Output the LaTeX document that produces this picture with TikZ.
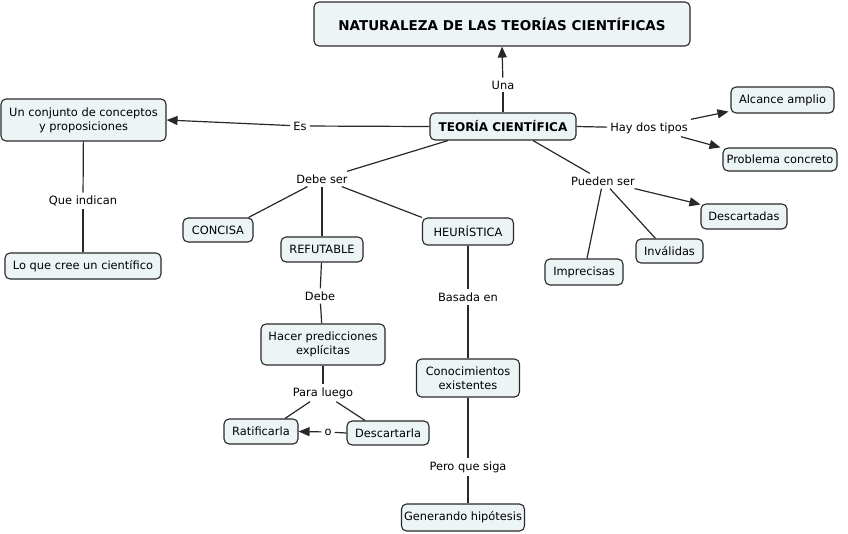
\documentclass[tikz,border=0pt]{standalone}
\usepackage{fontspec}
\setmainfont{DejaVu Sans}
\usetikzlibrary{arrows.meta}
\definecolor{boxfill}{RGB}{237,244,246}
\definecolor{edge}{RGB}{40,40,40}
\begin{document}
\begin{tikzpicture}[x=1pt,y=-1pt,
  box/.style={draw=edge,fill=boxfill,rounded corners=5pt,line width=1.1pt,align=center,inner sep=2pt,
    font=\fontsize{11.4}{14}\selectfont},
  lbl/.style={fill=white,inner sep=3pt,font=\fontsize{11.4}{14}\selectfont},
  con/.style={draw=edge,line width=1.2pt},
  arr/.style={con,-{Triangle[length=11pt,width=9pt]}}]
\useasboundingbox (0,0) rectangle (848,533);
% boxes
\node[box,minimum width=376,minimum height=44,font=\fontsize{13.5}{16}\bfseries] (title) at (502,24) {NATURALEZA DE LAS TEORÍAS CIENTÍFICAS};
\node[box,minimum width=146,minimum height=27,font=\fontsize{12}{14}\bfseries] (teoria) at (503,126.5) {TEORÍA CIENTÍFICA};
\node[box,minimum width=165,minimum height=42] (conjunto) at (83.5,120) {Un conjunto de conceptos\\y proposiciones};
\node[box,minimum width=156,minimum height=26] (locree) at (83,266) {Lo que cree un científico};
\node[box,minimum width=70,minimum height=24] (concisa) at (218,230) {CONCISA};
\node[box,minimum width=82,minimum height=25] (refutable) at (322,249.5) {REFUTABLE};
\node[box,minimum width=91,minimum height=27] (heuristica) at (468,231.5) {HEURÍSTICA};
\node[box,minimum width=124,minimum height=41] (hacer) at (323,344.5) {Hacer predicciones\\explícitas};
\node[box,minimum width=74,minimum height=25] (ratificarla) at (261,431.5) {Ratificarla};
\node[box,minimum width=82,minimum height=24] (descartarla) at (388,433) {Descartarla};
\node[box,minimum width=103,minimum height=38] (conoc) at (468,378) {Conocimientos\\existentes};
\node[box,minimum width=123,minimum height=27] (generando) at (463,517.5) {Generando hipótesis};
\node[box,minimum width=103,minimum height=26] (alcance) at (782.5,100) {Alcance amplio};
\node[box,minimum width=114,minimum height=23] (problema) at (780,159.5) {Problema concreto};
\node[box,minimum width=86,minimum height=25] (descartadas) at (744,216.5) {Descartadas};
\node[box,minimum width=67,minimum height=24] (invalidas) at (669.5,251) {Inválidas};
\node[box,minimum width=78,minimum height=26] (imprecisas) at (584,272) {Imprecisas};
% labels
\node[lbl] (una) at (503,85) {Una};
\node[lbl] (es) at (300,126) {Es};
\node[lbl] (queindican) at (83,201) {Que indican};
\node[lbl] (debeser) at (322,179) {Debe ser};
\node[lbl] (debe) at (320,296) {Debe};
\node[lbl] (paraluego) at (323,393) {Para luego};
\node[lbl] (o) at (328,432) {o};
\node[lbl] (basada) at (468,297) {Basada en};
\node[lbl] (pero) at (468,467) {Pero que siga};
\node[lbl] (haydos) at (649,128) {Hay dos tipos};
\node[lbl] (pueden) at (603,181) {Pueden ser};
% connectors
\draw[con] (teoria.north) -- (una);
\draw[arr] (una) -- (title.south);
\draw[con] (teoria.west) -- (es);
\draw[arr] (es) -- (conjunto.east);
\draw[con] (conjunto) -- (queindican);
\draw[con] (queindican) -- (locree);
\draw[con] ([xshift=-55pt]teoria.south) -- (debeser);
\draw[con] (debeser) -- ([xshift=-5pt]concisa.north east);
\draw[con] (debeser) -- (refutable);
\draw[con] (debeser) -- (heuristica.north west);
\draw[con] (refutable) -- (debe);
\draw[con] (debe) -- (hacer);
\draw[con] (hacer) -- (paraluego);
\draw[con] (paraluego) -- ([xshift=24pt]ratificarla.north);
\draw[con] (paraluego) -- ([xshift=-23pt]descartarla.north);
\draw[con] (descartarla.west) -- (o);
\draw[arr] (o) -- (ratificarla.east);
\draw[con] (heuristica) -- (basada);
\draw[con] (basada) -- (conoc);
\draw[con] (conoc) -- (pero);
\draw[con] (pero) -- ([xshift=5pt]generando.north);
\draw[con] (teoria.east) -- (haydos);
\draw[arr] (haydos) -- ([xshift=-2pt,yshift=2pt]alcance.south west);
\draw[arr] (haydos) -- ([xshift=-2pt]problema.north west);
\draw[con] ([xshift=30pt]teoria.south) -- (pueden);
\draw[arr] (pueden) -- ([yshift=-1pt]descartadas.north west);
\draw[con] (pueden) -- ([xshift=-14pt]invalidas.north);
\draw[con] (pueden) -- ([xshift=3pt]imprecisas.north);
\end{tikzpicture}
\end{document}
